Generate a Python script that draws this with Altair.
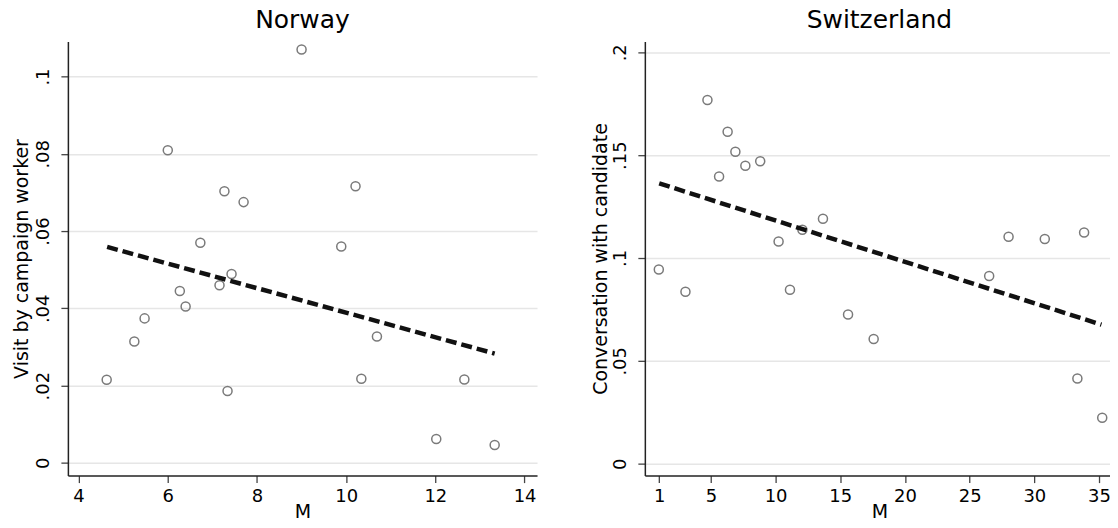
import altair as alt
import pandas as pd

# ---- data ----
nor_m = [4.63, 5.25, 5.48, 6.00, 6.27, 6.40, 6.73, 7.16, 7.27, 7.34, 7.43, 7.70,
         9.00, 9.89, 10.21, 10.34, 10.69, 12.02, 12.65, 13.33]
nor_visit = [0.0215, 0.0314, 0.0374, 0.0809, 0.0445, 0.0405, 0.0570, 0.0460, 0.0703,
             0.0186, 0.0489, 0.0675, 0.1070, 0.0560, 0.0716, 0.0218, 0.0327, 0.0062,
             0.0216, 0.0046]
nor_fit_m = [4.64, 13.33]
nor_fit_y = [0.0559, 0.0283]

sui_m = [0.97, 3.03, 4.73, 5.63, 6.29, 6.89, 7.66, 8.81, 10.23, 11.11, 12.07, 13.66,
         15.60, 17.58, 26.51, 28.01, 30.81, 33.33, 33.85, 35.25]
sui_conv = [0.0944, 0.0836, 0.1768, 0.1396, 0.1614, 0.1517, 0.1448, 0.1470, 0.1080,
            0.0846, 0.1137, 0.1191, 0.0725, 0.0606, 0.0912, 0.1103, 0.1092, 0.0414,
            0.1124, 0.0223]
sui_fit_m = [1.0, 35.19]
sui_fit_y = [0.1363, 0.0676]

nor_xticks = [4, 6, 8, 10, 12, 14]
nor_yticks = [0, 0.02, 0.04, 0.06, 0.08, 0.1]
sui_xticks = [1, 5, 10, 15, 20, 25, 30, 35]
sui_yticks = [0, 0.05, 0.1, 0.15, 0.2]

FONT = "DejaVu Sans"
W, H = 470, 435
LABEL_EXPR = "replace(format(datum.value, '.2~f'), '0.', '.')"


def panel(title, ytitle, mvals, yvals, fit_m, fit_y, xdom, ydom, xticks, yticks, title_x):
    pts = pd.DataFrame({"M": mvals, "v": yvals})
    fit = pd.DataFrame({"M": fit_m, "v": fit_y})
    xenc = alt.X("M:Q", scale=alt.Scale(domain=xdom, nice=False, zero=False),
                 axis=alt.Axis(values=xticks, title="M", grid=False, format="d",
                               labelPadding=5, titleY=42, titleBaseline="alphabetic"))
    yenc = alt.Y("v:Q", scale=alt.Scale(domain=ydom, nice=False, zero=False),
                 axis=alt.Axis(values=yticks, title=ytitle, grid=True,
                               labelExpr=LABEL_EXPR, labelAngle=270,
                               labelAlign="center", labelBaseline="alphabetic",
                               labelPadding=12,
                               titleAngle=270, titleX=title_x, titleY=H / 2,
                               titleAlign="center", titleBaseline="alphabetic"))
    scatter = alt.Chart(pts).mark_point(
        shape="circle", filled=False, size=82, strokeWidth=1.5, color="#7a7a7a", opacity=1
    ).encode(x=xenc, y=yenc)
    line = alt.Chart(fit).mark_line(
        color="#111111", strokeWidth=4.5, strokeDash=[11, 5]
    ).encode(x="M:Q", y="v:Q")
    return alt.layer(scatter, line).properties(
        width=W, height=H,
        title=alt.TitleParams(title, fontSize=25, font=FONT, fontWeight="normal",
                              color="black", baseline="alphabetic", offset=-12,
                              anchor="middle"),
    )


left = panel("Norway", "Visit by campaign worker", nor_m, nor_visit, nor_fit_m, nor_fit_y,
             [3.76, 14.28], [-0.0033, 0.1091], nor_xticks, nor_yticks, -40)
right = panel("Switzerland", "Conversation with candidate", sui_m, sui_conv, sui_fit_m,
              sui_fit_y, [-0.11, 36.16], [-0.0058, 0.2053], sui_xticks, sui_yticks, -38)

chart = alt.hconcat(left, right, spacing=54).properties(
    padding={"left": 4, "top": 0, "right": -4, "bottom": -4},
    background="white",
).configure_view(stroke=None).configure_axis(
    labelFont=FONT, titleFont=FONT, labelFontSize=18, titleFontSize=19,
    labelColor="black", titleColor="black", titleFontWeight="normal",
    tickSize=7, tickColor="#444444", tickWidth=1.3,
    domainColor="#222222", domainWidth=1.5,
    gridColor="#e6e6e6", gridWidth=1.5,
)

chart.save("out.html", embed_options={"renderer": "svg", "actions": False})
